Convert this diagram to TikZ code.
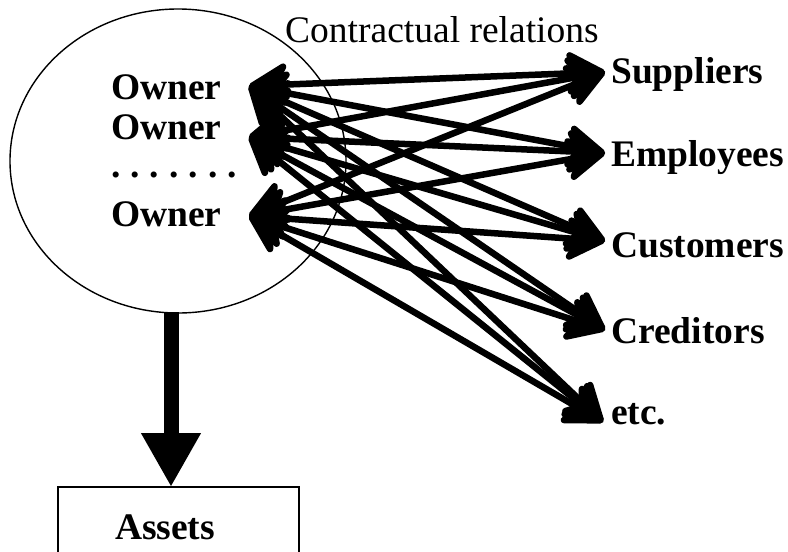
\documentclass[tikz,border=0pt]{standalone}
\usepackage{fontspec}
\setmainfont{Liberation Serif}
\usetikzlibrary{arrows.meta,shapes.geometric}
\tikzset{
  bigbold/.style={inner sep=0pt,font=\fontsize{37.5}{40}\selectfont\bfseries},
  party/.style={bigbold,anchor=west},
  owner/.style={bigbold,anchor=west},
  rel/.style={line width=6.5pt,
    {Stealth[length=46pt,width=52pt,inset=14pt,round]}-{Stealth[length=46pt,width=52pt,inset=14pt,round]}},
}
\begin{document}
\begin{tikzpicture}[x=1pt,y=-1pt]
\clip (0,0) rectangle (788,552);
\useasboundingbox (0,0) rectangle (788,552);

% the firm: an ellipse holding its owners
\node[draw,line width=1.4pt,ellipse,minimum width=336pt,minimum height=304pt,inner sep=0pt] (firm) at (178,161) {};
\node[owner] (ow1) at (111,87) {Owner};
\node[owner] (ow2) at (111,127) {Owner};
\node[owner] (dots) at (111,175) {.\hspace{10pt}.\hspace{10pt}.\hspace{10pt}.\hspace{10pt}.\hspace{10pt}.\hspace{10pt}.};
\node[owner] (ow3) at (111,214) {Owner};

\coordinate (o1) at (249,86);
\coordinate (o2) at (249,137);
\coordinate (o3) at (249,216);

% contract partners
\node[party] (sup) at (611,74) {Suppliers};
\node[party] (emp) at (611,158) {Employees};
\node[party] (cus) at (611,245) {Customers};
\node[party] (cre) at (611,331) {Creditors};
\node[party] (etc) at (611,414) {etc.};

\node[anchor=west,inner sep=0pt,font=\fontsize{37.5}{40}\selectfont] (lab) at (285,30) {Contractual relations};

\coordinate (tsup) at (605,72);
\coordinate (temp) at (605,153);
\coordinate (tcus) at (605,241);
\coordinate (tcre) at (605,330);
\coordinate (tetc) at (603,422);

% contractual relations: every owner with every partner
\foreach \o in {o1,o2,o3}{
  \foreach \p in {tsup,temp,tcus,tcre,tetc}{
    \draw[rel] (\o) -- (\p);
  }
}

% assets
\draw[line width=1.4pt] (58,600) -- (58,487) -- (299,487) -- (299,600);
\coordinate (assets) at (171,487);
\node[bigbold,anchor=center] (assetlab) at (165,527) {Assets};
\draw[line width=15pt,-{Triangle[length=54pt,width=56pt]}] (171,312) -- (assets);
\end{tikzpicture}
\end{document}
